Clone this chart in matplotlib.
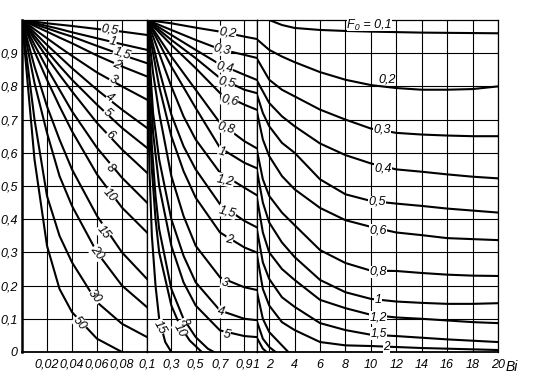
import matplotlib
matplotlib.use('Agg')
import matplotlib.pyplot as plt

# ---- data (theta vs Bi, one curve per Fo) ----

# panel 1: Bi 0 .. 0.1
P1_BI = [0, 0.01, 0.02, 0.03, 0.04, 0.06, 0.08, 0.1]
P1_FO = ['0,5', '1', '1,5', '2', '3', '4', '5', '6', '8', '10', '15', '20', '30', '50']
P1_THETA = [
    [1, 0.995, 0.99, 0.986, 0.982, 0.973, 0.965, 0.955],
    [1, 0.991, 0.982, 0.973, 0.963, 0.945, 0.927, 0.91],
    [1, 0.987, 0.975, 0.962, 0.95, 0.922, 0.895, 0.87],
    [1, 0.982, 0.965, 0.947, 0.93, 0.893, 0.86, 0.83],
    [1, 0.972, 0.945, 0.918, 0.892, 0.842, 0.80, 0.76],
    [1, 0.962, 0.925, 0.89, 0.855, 0.79, 0.73, 0.675],
    [1, 0.952, 0.906, 0.862, 0.82, 0.745, 0.675, 0.615],
    [1, 0.942, 0.887, 0.835, 0.785, 0.69, 0.61, 0.54],
    [1, 0.925, 0.855, 0.79, 0.725, 0.615, 0.525, 0.45],
    [1, 0.905, 0.82, 0.74, 0.665, 0.535, 0.435, 0.36],
    [1, 0.86, 0.74, 0.64, 0.55, 0.41, 0.30, 0.22],
    [1, 0.81, 0.66, 0.53, 0.44, 0.30, 0.20, 0.135],
    [1, 0.70, 0.47, 0.35, 0.27, 0.15, 0.085, 0.045],
    [1, 0.58, 0.32, 0.19, 0.12, 0.04, 0.0],
]
P1_LABELS = [(0.0704, 0.970, -8), (0.0728, 0.934, -12), (0.080, 0.900, -18),
             (0.076, 0.864, -25), (0.0728, 0.819, -28), (0.0704, 0.765, -35),
             (0.068, 0.720, -40), (0.0704, 0.654, -42), (0.0704, 0.554, -45),
             (0.0704, 0.473, -48), (0.0648, 0.361, -50), (0.060, 0.298, -52),
             (0.0584, 0.166, -50), (0.0464, 0.087, -50)]

# panel 2: Bi 0.1 .. 1
P2_FO = ['0,2', '0,3', '0,4', '0,5', '0,6', '0,8', '1', '1,2', '1,5', '2',
         '3', '4', '5', '8', '10', '15']
P2_BI = [
    [0.1, 0.3, 0.5, 0.7, 0.9, 1.0],
    [0.1, 0.3, 0.5, 0.7, 0.9, 1.0],
    [0.1, 0.3, 0.5, 0.7, 0.9, 1.0],
    [0.1, 0.3, 0.5, 0.7, 0.9, 1.0],
    [0.1, 0.3, 0.5, 0.7, 0.9, 1.0],
    [0.1, 0.3, 0.5, 0.7, 0.9, 1.0],
    [0.1, 0.3, 0.5, 0.7, 0.9, 1.0],
    [0.1, 0.2, 0.3, 0.4, 0.5, 0.7, 0.9, 1.0],
    [0.1, 0.2, 0.3, 0.4, 0.5, 0.7, 0.9, 1.0],
    [0.1, 0.2, 0.3, 0.4, 0.5, 0.7, 0.9, 1.0],
    [0.1, 0.15, 0.2, 0.3, 0.4, 0.5, 0.7, 0.9, 1.0],
    [0.1, 0.15, 0.2, 0.3, 0.4, 0.5, 0.7, 0.9, 1.0],
    [0.1, 0.15, 0.2, 0.3, 0.4, 0.5, 0.7, 0.9, 1.0],
    [0.1, 0.12, 0.14, 0.17, 0.2, 0.3, 0.4, 0.5, 0.6, 0.65],
    [0.1, 0.12, 0.14, 0.17, 0.2, 0.3, 0.37, 0.45, 0.55],
    [0.1, 0.11, 0.12, 0.14, 0.17, 0.2, 0.25, 0.3],
]
P2_THETA = [
    [1, 0.99, 0.977, 0.965, 0.95, 0.943],
    [1, 0.97, 0.94, 0.912, 0.895, 0.886],
    [1, 0.955, 0.91, 0.866, 0.835, 0.82],
    [1, 0.94, 0.885, 0.825, 0.79, 0.78],
    [1, 0.925, 0.855, 0.78, 0.745, 0.73],
    [1, 0.89, 0.79, 0.69, 0.635, 0.614],
    [1, 0.86, 0.735, 0.615, 0.57, 0.554],
    [1, 0.90, 0.80, 0.71, 0.64, 0.54, 0.495, 0.473],
    [1, 0.85, 0.715, 0.62, 0.55, 0.445, 0.395, 0.376],
    [1, 0.80, 0.65, 0.545, 0.465, 0.36, 0.315, 0.30],
    [1, 0.84, 0.72, 0.53, 0.41, 0.32, 0.225, 0.195, 0.187],
    [1, 0.72, 0.58, 0.40, 0.29, 0.21, 0.125, 0.10, 0.096],
    [1, 0.66, 0.50, 0.32, 0.21, 0.14, 0.065, 0.048, 0.045],
    [1, 0.78, 0.62, 0.47, 0.37, 0.19, 0.10, 0.045, 0.01, 0.0],
    [1, 0.72, 0.55, 0.40, 0.30, 0.14, 0.08, 0.035, 0.0],
    [1, 0.75, 0.55, 0.35, 0.20, 0.10, 0.03, 0.0],
]
P2_LABELS = [(0.761, 0.961, -8), (0.72, 0.910, -12), (0.737, 0.858, -12),
             (0.753, 0.813, -12), (0.778, 0.759, -12), (0.753, 0.675, -15),
             (0.712, 0.602, -15), (0.745, 0.518, -12), (0.761, 0.422, -15),
             (0.778, 0.337, -12), (0.737, 0.208, -15), (0.712, 0.120, -12),
             (0.753, 0.051, -12), (0.402, 0.090, -60), (0.369, 0.066, -60),
             (0.206, 0.075, -60)]

# panel 3: Bi 1 .. 20
P3_FO = ['0,1', '0,2', '0,3', '0,4', '0,5', '0,6', '0,8', '1', '1,2', '1,5', '2',
         '3', '4', '5']
P3_BI = [
    [2, 3, 4, 6, 8, 10, 14, 20],
    [1, 2, 3, 4, 6, 8, 10, 12, 14, 16, 18, 20],
    [1, 2, 3, 4, 6, 8, 10, 12, 14, 16, 18, 20],
    [1, 2, 3, 4, 6, 8, 10, 12, 14, 16, 18, 20],
    [1, 1.5, 2, 3, 4, 6, 8, 10, 12, 14, 16, 18, 20],
    [1, 1.5, 2, 3, 4, 6, 8, 10, 12, 14, 16, 18, 20],
    [1, 1.5, 2, 3, 4, 6, 8, 10, 12, 14, 16, 18, 20],
    [1, 1.5, 2, 3, 4, 6, 8, 10, 12, 14, 16, 18, 20],
    [1, 1.5, 2, 3, 4, 6, 8, 10, 12, 14, 16, 18, 20],
    [1, 1.5, 2, 3, 4, 6, 8, 10, 12, 14, 16, 18, 20],
    [1, 1.5, 2, 3, 4, 6, 8, 10, 12, 14, 16, 18, 20],
    [1, 1.5, 2, 3, 3.5],
    [1, 1.5, 2, 2.5],
    [1, 1.5, 1.8],
]
P3_THETA = [
    [1.0, 0.985, 0.976, 0.97, 0.967, 0.965, 0.962, 0.96],
    [0.943, 0.91, 0.89, 0.873, 0.843, 0.82, 0.804, 0.795, 0.79, 0.79, 0.792, 0.80],
    [0.886, 0.82, 0.79, 0.77, 0.73, 0.70, 0.673, 0.66, 0.655, 0.652, 0.65, 0.65],
    [0.82, 0.75, 0.71, 0.68, 0.628, 0.593, 0.568, 0.55, 0.543, 0.535, 0.528, 0.523],
    [0.78, 0.72, 0.68, 0.63, 0.60, 0.52, 0.475, 0.455, 0.447, 0.44, 0.432, 0.426, 0.42],
    [0.73, 0.64, 0.59, 0.53, 0.49, 0.434, 0.397, 0.377, 0.36, 0.352, 0.343, 0.34, 0.337],
    [0.614, 0.52, 0.47, 0.42, 0.382, 0.307, 0.268, 0.245, 0.244, 0.238, 0.233, 0.23, 0.229],
    [0.554, 0.45, 0.39, 0.33, 0.286, 0.217, 0.18, 0.16, 0.152, 0.148, 0.145, 0.145, 0.147],
    [0.473, 0.36, 0.30, 0.25, 0.217, 0.157, 0.132, 0.112, 0.104, 0.10, 0.095, 0.09, 0.087],
    [0.376, 0.27, 0.22, 0.165, 0.136, 0.087, 0.066, 0.052, 0.048, 0.043, 0.038, 0.034, 0.03],
    [0.30, 0.19, 0.14, 0.09, 0.066, 0.03, 0.02, 0.018, 0.015, 0.012, 0.01, 0.008, 0.006],
    [0.187, 0.10, 0.06, 0.02, 0.0],
    [0.096, 0.04, 0.015, 0.0],
    [0.045, 0.01, 0.0],
]
P3_LABELS = [None, (11.27, 0.822), (10.9, 0.669), (10.96, 0.554), (10.5, 0.452),
             (10.57, 0.367), (10.57, 0.241), (10.57, 0.157), (10.57, 0.104),
             (10.6, 0.056), (11.2, 0.016), None, None, None]

Y_TICKS = [0, 0.1, 0.2, 0.3, 0.4, 0.5, 0.6, 0.7, 0.8, 0.9]
Y_LABELS = ['0', '0,1', '0,2', '0,3', '0,4', '0,5', '0,6', '0,7', '0,8', '0,9']
X1_TICKS = [0.02, 0.04, 0.06, 0.08, 0.1]
X1_LABELS = ['0,02', '0,04', '0,06', '0,08', '0,1']
X2_TICKS = [0.3, 0.5, 0.7, 0.9, 1.0]
X2_LABELS = ['0,3', '0,5', '0,7', '0,9', '1']
X3_TICKS = [2, 4, 6, 8, 10, 12, 14, 16, 18, 20]
X3_LABELS = [str(t) for t in X3_TICKS]

plt.rcParams['font.family'] = ['Liberation Sans', 'DejaVu Sans']
plt.rcParams['font.style'] = 'italic'

W, H = 533, 380
fig = plt.figure(figsize=(W / 100, H / 100), dpi=100)


def panel(x0, x1, xlim, ticks, labels):
    ax = fig.add_axes([x0 / W, 28 / H, (x1 - x0) / W, 332 / H])
    ax.set_xlim(*xlim)
    ax.set_ylim(0, 1)
    ax.set_xticks(ticks)
    ax.set_xticklabels(labels, fontsize=9)
    ax.set_yticks(Y_TICKS)
    ax.set_yticklabels([])
    ax.tick_params(length=0, pad=5)
    ax.grid(True, color='black', linewidth=0.8)
    for s in ax.spines.values():
        s.set_linewidth(0.9)
    ax.set_axisbelow(True)
    return ax


ax1 = panel(22, 147, (0, 0.1), X1_TICKS, X1_LABELS)
ax2 = panel(147, 256.5, (0.1, 1.0), X2_TICKS, X2_LABELS)
ax3 = panel(256.5, 498, (1, 20), X3_TICKS, X3_LABELS)

ax1.set_yticklabels(Y_LABELS, fontsize=9)
ax1.tick_params(axis='y', pad=3)
ax1.spines['left'].set_linewidth(1.8)
for ax in (ax1, ax2, ax3):
    ax.spines['bottom'].set_linewidth(1.3)

lbl = dict(fontsize=9, ha='center', va='center', zorder=5,
           bbox=dict(fc='white', ec='none', pad=0.2))

for th, fo, (bx, by, rot) in zip(P1_THETA, P1_FO, P1_LABELS):
    ax1.plot(P1_BI[:len(th)], th, color='black', lw=1.5)
    ax1.text(bx, by, fo, rotation=rot, **lbl)

for bi, th, fo, (bx, by, rot) in zip(P2_BI, P2_THETA, P2_FO, P2_LABELS):
    ax2.plot(bi, th, color='black', lw=1.5)
    ax2.text(bx, by, fo, rotation=rot, **lbl)

for bi, th in zip(P3_BI, P3_THETA):
    ax3.plot(bi, th, color='black', lw=1.5)
for fo, pos in zip(P3_FO, P3_LABELS):
    if pos is not None:
        fs = 8.5 if fo in ('1,5', '2') else 9
        ax3.text(pos[0], pos[1], fo, **{**lbl, 'fontsize': fs})

ax3.text(9.86, 0.985, 'F₀ = 0,1', **lbl)
ax3.text(20.6, -0.045, 'Bi', fontsize=10, ha='left', va='center')

fig.savefig('out.png', dpi=100)
